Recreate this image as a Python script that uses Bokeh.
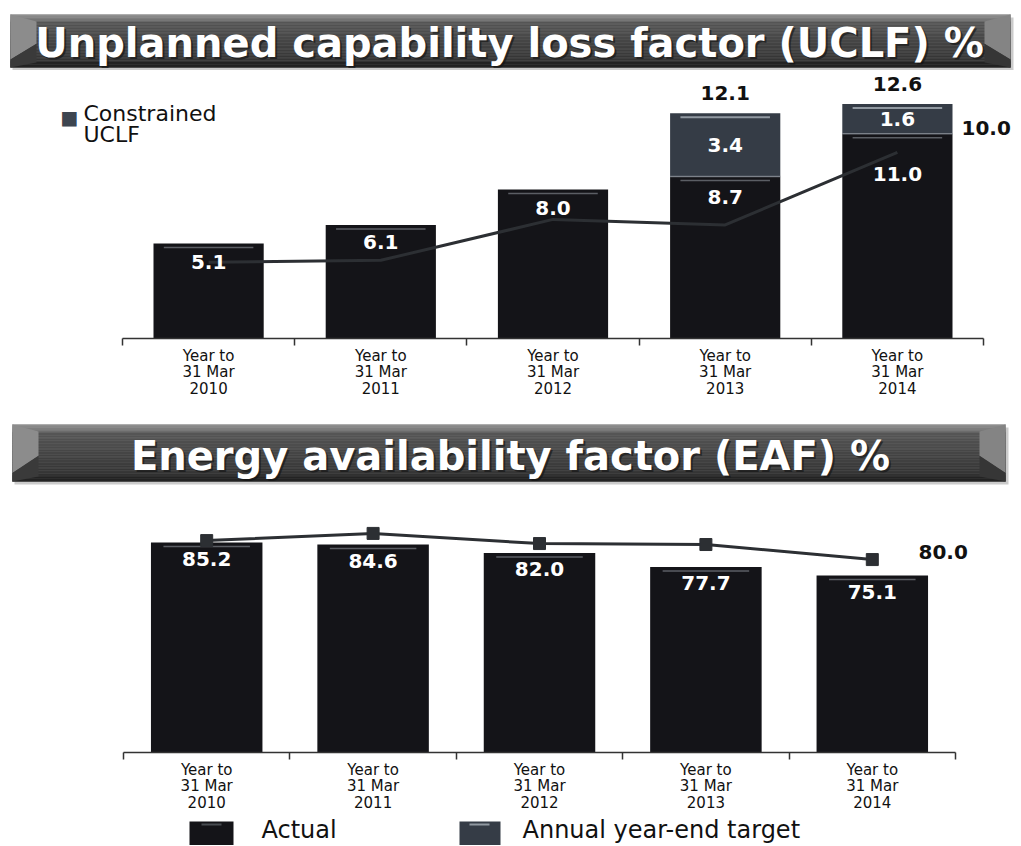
import numpy as np
from bokeh.plotting import figure
from bokeh.models import Range1d, FixedTicker, Label, ColumnDataSource
from bokeh.layouts import column
from bokeh.core.properties import value
from bokeh.embed import file_html
from bokeh.resources import INLINE

# ---------------- data ----------------
years = ["2010", "2011", "2012", "2013", "2014"]
tick_labels = ["Year to\n31 Mar\n" + y for y in years]
uclf_actual = [5.1, 6.1, 8.0, 8.7, 11.0]
uclf_constrained = [0.0, 0.0, 0.0, 3.4, 1.6]
uclf_target = [4.1, 4.2, 6.4, 6.1, 10.0]
eaf_actual = [85.2, 84.6, 82.0, 77.7, 75.1]
eaf_target = [85.8, 88.0, 84.9, 84.6, 80.0]
uclf_title = "Unplanned capability loss factor (UCLF) %"
eaf_title = "Energy availability factor (EAF) %"
legend_items = ["Actual", "Annual year-end target"]
constrained_label = "Constrained\nUCLF"

FONT = "DejaVu Sans"
W = 1021
BAR_COLOR = "#141418"
CONS_COLOR = "#353c46"
LINE_COLOR = "#2c2f33"


def base_fig(fh, x_range, y_range, bottom=0, **kw):
    p = figure(frame_width=W, frame_height=fh, x_range=x_range, y_range=y_range,
               output_backend="svg", toolbar_location=None,
               min_border_left=0, min_border_right=0, min_border_top=0,
               min_border_bottom=bottom, y_axis_location=None, **kw)
    p.outline_line_color = None
    p.grid.visible = False
    p.background_fill_color = "white"
    p.border_fill_color = "white"
    return p


def hexgray(v):
    v = int(max(0, min(255, round(v))))
    return "#%02x%02x%02x" % (v, v, v)


def shade(f):
    if f < 0.13:
        return hexgray(150 - 320 * f)
    if f < 0.9:
        g = (f - 0.13) / 0.77
        return hexgray(88 - 36 * g)
    return hexgray(36)


def make_banner(text, fig_h, top, bottom, left, right, tx, ty, fsize):
    p = base_fig(fig_h, Range1d(0, W), Range1d(fig_h, 0), x_axis_location=None)
    H = bottom - top
    p.quad(left=[left + 2], right=[right + 3], top=[top + 3], bottom=[bottom + 3],
           fill_color="#a0a0a0", fill_alpha=0.55, line_color=None)
    n = 36
    e = np.linspace(top, bottom, n + 1)
    f = ((e[:-1] + e[1:]) / 2 - top) / H
    cols = [shade(v) for v in f]
    p.quad(left=[left] * n, right=[right] * n, top=list(e[:-1]), bottom=list(e[1:]),
           fill_color=cols, line_color=cols, line_width=0.5)
    bw, bt, bb = 26, 7, 5
    p.patch([left, left + bw, left + bw, left], [top, top + bt, top + 0.55 * H, top + 0.85 * H],
            fill_color="#8c8c8c", line_color=None)
    p.patch([left, left + bw, left + bw, left], [top + 0.85 * H, top + 0.55 * H, bottom - bb, bottom],
            fill_color="#3a3a3a", line_color=None)
    p.patch([right, right - bw, right - bw, right], [top, top + bt, top + 0.55 * H, top + 0.85 * H],
            fill_color="#848484", line_color=None)
    p.patch([right, right - bw, right - bw, right], [top + 0.85 * H, top + 0.55 * H, bottom - bb, bottom],
            fill_color="#363636", line_color=None)
    p.text(x=[tx + 2], y=[ty + 2], text=[text], text_align="center", text_baseline="middle",
           text_color="#111111", text_alpha=0.6, text_font=value(FONT), text_font_style="bold",
           text_font_size=fsize)
    p.text(x=[tx], y=[ty], text=[text], text_align="center", text_baseline="middle",
           text_color="white", text_font=value(FONT), text_font_style="bold",
           text_font_size=fsize)
    return p


def cat_range(first_px, last_px):
    # screen x of the outer category edges -> data range over the full-width frame
    n = len(years)
    s = (last_px - first_px) / n
    return Range1d(-0.5 - first_px / s, n - 0.5 + (W - last_px) / s)


def style_xaxis(p):
    n = len(years)
    ax = p.xaxis[0]
    ax.bounds = (-0.5, n - 0.5)
    ax.ticker = FixedTicker(ticks=list(range(n)), minor_ticks=[i - 0.5 for i in range(n + 1)])
    ax.major_label_overrides = {i: lab for i, lab in enumerate(tick_labels)}
    ax.major_tick_out = 0
    ax.major_tick_in = 0
    ax.minor_tick_in = 0
    ax.minor_tick_out = 7
    ax.minor_tick_line_color = "#333333"
    ax.minor_tick_line_width = 1.5
    ax.axis_line_color = "#333333"
    ax.axis_line_width = 1.5
    ax.major_label_text_font = FONT
    ax.major_label_text_font_size = "15px"
    ax.major_label_text_color = "#111111"
    ax.major_label_text_line_height = 0.94
    ax.major_label_standoff = 1


xs = list(range(len(years)))

# ---------------- banner 1 ----------------
b1 = make_banner(uclf_title, 70, 14, 67, 10, 1010, 509, 42, "40px")

# ---------------- chart 1 (UCLF) ----------------
c1_frame_h = 268
c1_top = 14.4
p1 = base_fig(c1_frame_h, cat_range(122, 983), Range1d(0, c1_top), bottom=64)
style_xaxis(p1)
px1 = c1_top / c1_frame_h  # data units per pixel

totals = [a + c for a, c in zip(uclf_actual, uclf_constrained)]
s1 = ColumnDataSource(dict(x=xs, actual=uclf_actual,
                           lab=["%.1f" % v for v in uclf_actual],
                           dy=[18, 17, 18, 20, 40],
                           hl=[v - 4 * px1 for v in uclf_actual]))
p1.vbar(x="x", top="actual", bottom=0, width=0.64, source=s1, fill_color=BAR_COLOR, line_color=None)

ci = [i for i, c in enumerate(uclf_constrained) if c > 0]
s1c = ColumnDataSource(dict(x=[xs[i] for i in ci],
                            bottom=[uclf_actual[i] for i in ci],
                            top=[totals[i] for i in ci],
                            mid=[uclf_actual[i] + uclf_constrained[i] / 2 for i in ci],
                            lab=["%.1f" % uclf_constrained[i] for i in ci],
                            tot=["%.1f" % totals[i] for i in ci],
                            hl=[totals[i] - 4 * px1 for i in ci]))
p1.vbar(x="x", top="top", bottom="bottom", width=0.64, source=s1c, fill_color=CONS_COLOR, line_color=None)
p1.rect(x="x", y="hl", width=0.52, height=1.5, height_units="screen", source=s1,
        fill_color="#8a9098", fill_alpha=0.6, line_color=None)
p1.rect(x="x", y="hl", width=0.52, height=2, height_units="screen", source=s1c,
        fill_color="#a9b0b8", fill_alpha=0.8, line_color=None)
p1.rect(x="x", y="bottom", width=0.64, height=1.5, height_units="screen", source=s1c,
        fill_color="#8a9098", fill_alpha=0.7, line_color=None)

p1.line(xs, uclf_target, line_color=LINE_COLOR, line_width=3)

p1.text(x="x", y="actual", text="lab", y_offset="dy", source=s1, text_align="center",
        text_baseline="middle", text_color="white", text_font=value(FONT), text_font_style="bold",
        text_font_size="20px")
p1.text(x="x", y="mid", text="lab", source=s1c, text_align="center",
        text_baseline="middle", text_color="white", text_font=value(FONT), text_font_style="bold",
        text_font_size="20px")
p1.text(x="x", y="top", text="tot", y_offset=-20, source=s1c, text_align="center",
        text_baseline="middle", text_color="#111111", text_font=value(FONT), text_font_style="bold",
        text_font_size="20px")
p1.add_layout(Label(x=4.5, y=uclf_target[-1], x_offset=-22, y_offset=24, text="%.1f" % uclf_target[-1],
                    text_align="left", text_baseline="middle", text_color="#111111",
                    text_font=FONT, text_font_style="bold", text_font_size="20px"))
p1.add_layout(Label(x=-0.5, y=c1_top, x_offset=-62, y_offset=-35, text="\u25a0",
                    text_align="left", text_baseline="top", text_color="#3d4550",
                    text_font=FONT, text_font_size="19px"))
p1.add_layout(Label(x=-0.5, y=c1_top, x_offset=-39, y_offset=-30, text=constrained_label,
                    text_align="left", text_baseline="top", text_color="#111111",
                    text_line_height=0.86,
                    text_font=FONT, text_font_size="22px"))

# ---------------- banner 2 ----------------
b2 = make_banner(eaf_title, 86, 22, 79, 12, 1005, 510, 53, "40px")

# ---------------- chart 2 (EAF) ----------------
c2_frame_h = 264
c2_lo = 21.0
c2_hi = c2_lo + c2_frame_h / 3.27
p2 = base_fig(c2_frame_h, cat_range(123, 955), Range1d(c2_lo, c2_hi), bottom=58)
style_xaxis(p2)
px2 = (c2_hi - c2_lo) / c2_frame_h
s2 = ColumnDataSource(dict(x=xs, actual=eaf_actual, lab=["%.1f" % v for v in eaf_actual],
                           hl=[v - 4 * px2 for v in eaf_actual]))
p2.vbar(x="x", top="actual", bottom=0, width=0.67, source=s2, fill_color=BAR_COLOR, line_color=None)
p2.rect(x="x", y="hl", width=0.52, height=1.5, height_units="screen", source=s2,
        fill_color="#8a9098", fill_alpha=0.6, line_color=None)
p2.text(x="x", y="actual", text="lab", y_offset=16, source=s2, text_align="center",
        text_baseline="middle", text_color="white", text_font=value(FONT), text_font_style="bold",
        text_font_size="20px")
p2.line(xs, eaf_target, line_color=LINE_COLOR, line_width=3)
p2.scatter(xs, eaf_target, marker="square", size=12, fill_color=LINE_COLOR, line_color=LINE_COLOR)
p2.add_layout(Label(x=4.5, y=eaf_target[-1], x_offset=-37, y_offset=8, text="%.1f" % eaf_target[-1],
                    text_align="left", text_baseline="middle", text_color="#111111",
                    text_font=FONT, text_font_style="bold", text_font_size="20px"))

# ---------------- legend ----------------
LH = 30
lg = base_fig(LH, Range1d(0, W), Range1d(LH, 0), x_axis_location=None)
lg.quad(left=[189, 459], right=[233, 500], top=[6, 6], bottom=[52, 52],
        fill_color=[BAR_COLOR, CONS_COLOR], line_color=None)
lg.rect(x=[211, 479], y=[9, 9], width=[20, 20], height=[2, 2],
        fill_color=["#555a60", "#a9b0b8"], fill_alpha=0.8, line_color=None)
lg.text(x=[261, 522], y=[14, 14], text=legend_items, text_align="left", text_baseline="middle",
        text_color="#111111", text_font=value(FONT), text_font_size="24px")

layout = column(b1, p1, b2, p2, lg, spacing=0)
open("out.html", "w").write(file_html(layout, INLINE))
